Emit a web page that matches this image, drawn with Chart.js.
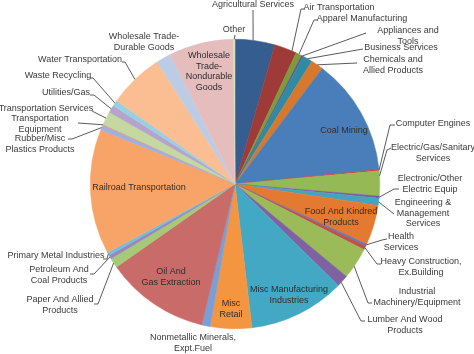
<!DOCTYPE html>
<html>
<head>
<meta charset="utf-8">
<script src="https://cdn.jsdelivr.net/npm/chart.js@4.4.1/dist/chart.umd.min.js"></script>
<style>
  html, body { margin: 0; padding: 0; background: #fff; }
  canvas { display: block; }
</style>
</head>
<body>
<canvas id="pie" width="474" height="354"></canvas>
<script>
// DATA (share of total, %)
const categories = [
  "Agricultural Services", "Air Transportation", "Apparel Manufacturing",
  "Appliances and Tools", "Business Services", "Chemicals and Allied Products",
  "Coal Mining", "Computer Engines", "Electric/Gas/Sanitary Services",
  "Electronic/Other Electric Equip", "Engineering & Management Services",
  "Food And Kindred Products", "Health Services", "Heavy Construction, Ex.Building",
  "Industrial Machinery/Equipment", "Lumber And Wood Products",
  "Misc Manufacturing Industries", "Misc Retail", "Nonmetallic Minerals, Expt.Fuel",
  "Oil And Gas Extraction", "Paper And Allied Products", "Petroleum And Coal Products",
  "Primary Metal Industries", "Railroad Transportation", "Rubber/Misc Plastics Products",
  "Transportation Equipment", "Transportation Services", "Utilities/Gas",
  "Waste Recycling", "Water Transportation", "Wholesale Trade-Durable Goods",
  "Wholesale Trade-Nondurable Goods", "Other"
];
const shares = [
  4.44, 2.50, 0.69,
  0.17, 1.11, 1.39,
  13.06, 0.19, 2.78,
  0.25, 0.78,
  4.44, 0.22, 0.47,
  3.53, 1.33,
  10.78, 4.61, 0.94,
  11.58, 1.11, 0.42,
  0.36, 13.94, 0.56,
  0.11, 1.50, 0.83,
  0.67, 6.17, 1.67,
  7.22, 0.17
];
const sliceColors = [
  "#355d8f", "#9e3a37", "#7e9b3c", "#674f88", "#2f8aa6", "#d8782d",
  "#4a7ebb", "#be4b48", "#94b955", "#7a5f9f", "#45a3bf", "#e47a32",
  "#5a7fba", "#c14f4c", "#9bbb59", "#7e62a1", "#43a8c3", "#f49542",
  "#7b9ed4", "#c96b68", "#a6c978", "#9987c0", "#73bfd6", "#f8a468",
  "#a3afdb", "#d99795", "#c5d8a0", "#b3a4cc", "#9bcfe0", "#fbbe92",
  "#bbcce4", "#e5bdbd", "#d6e2bb"
];

// LABEL LAYOUT (text lines, position, leader line toward slice edge)
const labelSpots = {
  "Other": { lines: ["Other"], x: 234, y: 30, lead: [[235, 35]], f: 0.5 },
  "Agricultural Services": { lines: ["Agricultural Services"], x: 253, y: 5, lead: [[253, 10]], f: 0.45 },
  "Air Transportation": { lines: ["Air Transportation"], x: 339, y: 8, lead: [[304, 9], [301, 9]], f: 0.8 },
  "Apparel Manufacturing": { lines: ["Apparel Manufacturing"], x: 362, y: 19, lead: [[317, 20], [314, 20]] },
  "Appliances and Tools": { lines: ["Appliances and", "Tools"], x: 408, y: 31, lead: [[366, 33]] },
  "Business Services": { lines: ["Business Services"], x: 401, y: 48, lead: [[363, 49]] },
  "Chemicals and Allied Products": { lines: ["Chemicals and", "Allied Products"], x: 393, y: 60, lead: [[357, 63]] },
  "Coal Mining": { lines: ["Coal Mining"], x: 344, y: 131, inside: true },
  "Computer Engines": { lines: ["Computer Engines"], x: 433, y: 124, lead: [[395, 125], [390, 125]] },
  "Electric/Gas/Sanitary Services": { lines: ["Electric/Gas/Sanitary", "Services"], x: 433, y: 148, lead: [[391, 148], [387, 150]], f: 0.2 },
  "Electronic/Other Electric Equip": { lines: ["Electronic/Other", "Electric Equip"], x: 430, y: 179, lead: [[399, 189], [394, 189]] },
  "Engineering & Management Services": { lines: ["Engineering &", "Management", "Services"], x: 423, y: 203, lead: [[394, 214]] },
  "Food And Kindred Products": { lines: ["Food And Kindred", "Products"], x: 341, y: 212, inside: true },
  "Health Services": { lines: ["Health", "Services"], x: 401, y: 237, lead: [[387, 239], [382, 240]] },
  "Heavy Construction, Ex.Building": { lines: ["Heavy Construction,", "Ex.Building"], x: 421, y: 262, lead: [[381, 264], [377, 264]] },
  "Industrial Machinery/Equipment": { lines: ["Industrial", "Machinery/Equipment"], x: 417, y: 292, lead: [[372, 303], [368, 303]], f: 0.6 },
  "Lumber And Wood Products": { lines: ["Lumber And Wood", "Products"], x: 405, y: 320, lead: [[365, 321], [361, 321]], f: 0.65 },
  "Misc Manufacturing Industries": { lines: ["Misc Manufacturing", "Industries"], x: 289, y: 290, inside: true },
  "Misc Retail": { lines: ["Misc", "Retail"], x: 231, y: 304, inside: true },
  "Nonmetallic Minerals, Expt.Fuel": { lines: ["Nonmetallic Minerals,", "Expt.Fuel"], x: 193, y: 338 },
  "Oil And Gas Extraction": { lines: ["Oil And", "Gas Extraction"], x: 171, y: 272, inside: true },
  "Paper And Allied Products": { lines: ["Paper And Allied", "Products"], x: 60, y: 300, lead: [[94, 304], [98, 304]] },
  "Petroleum And Coal Products": { lines: ["Petroleum And", "Coal Products"], x: 59, y: 270, lead: [[90, 274], [94, 274]] },
  "Primary Metal Industries": { lines: ["Primary Metal Industries"], x: 56, y: 256, lead: [[103, 259], [107, 259]] },
  "Railroad Transportation": { lines: ["Railroad Transportation"], x: 139, y: 188, inside: true },
  "Rubber/Misc Plastics Products": { lines: ["Rubber/Misc", "Plastics Products"], x: 40, y: 139, lead: [[68, 139], [72, 139]] },
  "Transportation Equipment": { lines: ["Transportation", "Equipment"], x: 40, y: 119, lead: [[78, 123]] },
  "Transportation Services": { lines: ["Transportation Services"], x: 46, y: 109, lead: [[92, 111]] },
  "Utilities/Gas": { lines: ["Utilities/Gas"], x: 66, y: 93, lead: [[90, 95], [94, 95]] },
  "Waste Recycling": { lines: ["Waste Recycling"], x: 58, y: 76, lead: [[90, 78], [93, 78]] },
  "Water Transportation": { lines: ["Water Transportation"], x: 80, y: 60, lead: [[122, 62], [125, 62]] },
  "Wholesale Trade-Durable Goods": { lines: ["Wholesale Trade-", "Durable Goods"], x: 144, y: 37 },
  "Wholesale Trade-Nondurable Goods": { lines: ["Wholesale", "Trade-", "Nondurable", "Goods"], x: 209, y: 56, inside: true }
};

// LABELS + LEADER LINES
const sliceLabels = {
  id: "sliceLabels",
  afterDatasetsDraw(chart) {
    const ctx = chart.ctx;
    const arcs = chart.getDatasetMeta(0).data;
    ctx.save();
    ctx.font = "9px 'Liberation Sans', Arial, sans-serif";
    ctx.textAlign = "center";
    ctx.textBaseline = "middle";

    categories.forEach((name, i) => {
      const spot = labelSpots[name];
      if (!spot) return;
      const arc = arcs[i];

      if (spot.lead) {
        const p = arc.getProps(["x", "y", "startAngle", "endAngle", "outerRadius"], true);
        const f = spot.f !== undefined ? spot.f : 0.5;
        const a = p.startAngle + f * (p.endAngle - p.startAngle);
        const ex = p.x + Math.cos(a) * p.outerRadius;
        const ey = p.y + Math.sin(a) * p.outerRadius;
        ctx.strokeStyle = "#5a5a5a";
        ctx.lineWidth = 1;
        ctx.beginPath();
        ctx.moveTo(spot.lead[0][0], spot.lead[0][1]);
        spot.lead.slice(1).forEach(pt => ctx.lineTo(pt[0], pt[1]));
        ctx.lineTo(ex, ey);
        ctx.stroke();
      }

      ctx.fillStyle = spot.inside ? "#2e2e2e" : "#3a3a3a";
      spot.lines.forEach((txt, k) => {
        ctx.fillText(txt, spot.x, spot.y + k * 10.5);
      });
    });
    ctx.restore();
  }
};

new Chart(document.getElementById("pie"), {
  type: "pie",
  data: {
    labels: categories,
    datasets: [{
      data: shares,
      backgroundColor: sliceColors,
      borderColor: sliceColors,
      borderWidth: 0.5
    }]
  },
  options: {
    responsive: false,
    animation: false,
    layout: { padding: { left: 90, right: 94, top: 39, bottom: 25 } },
    plugins: {
      legend: { display: false },
      tooltip: { enabled: false }
    }
  },
  plugins: [sliceLabels]
});
</script>
</body>
</html>
